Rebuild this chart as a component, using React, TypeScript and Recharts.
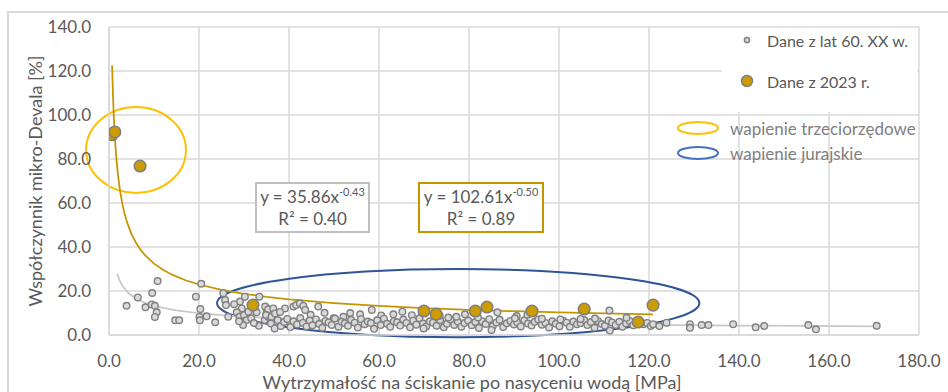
import { ScatterChart, Scatter, XAxis, YAxis, CartesianGrid, ReferenceArea, Legend } from "recharts";

const FONT = "Lato, 'Liberation Sans', sans-serif";
const TEXT = "#595959";
const GRID = "#d9d9d9";
const GOLD = "#cc9c00";
const GOLD_LINE = "#c59500";

// [strength after saturation MPa, micro-Deval %] - survey from the 1960s
const oldSamples: [number, number][] = [
  [3.9, 13.3], [6.4, 17.1], [8.1, 12.6], [9.6, 19.1], [9.5, 13.9], [10.2, 13.3], [10.6, 10.3], [10.2, 8.2],
  [10.8, 24.5], [14.7, 6.7], [15.6, 6.7], [19.3, 17.4], [20.5, 23.3], [20.3, 11.8], [20.1, 8.2], [20.2, 6.7],
  [21.7, 8.5], [23.6, 5.8], [25.4, 19.0], [25.8, 15.9], [26.0, 13.6], [26.5, 8.3],
  [29.1, 15.2], [29.5, 12.1], [28.4, 10.3], [29.0, 8.3], [30.0, 9.1], [30.6, 6.8], [31.0, 10.6], [32.8, 10.3],
  [33.4, 17.4], [33.3, 4.2], [34.9, 12.4], [35.0, 9.8], [34.6, 6.8], [35.4, 8.3], [29.8, 4.5], [30.2, 17.4],
  [31.6, 7.6], [32.2, 5.4], [27.8, 14.0], [28.9, 6.2],
  [34.7, 12.9], [35.4, 11.7], [36.5, 12.1], [34.9, 9.1], [36.1, 8.3], [36.9, 9.8], [39.1, 12.1], [41.0, 12.9],
  [41.6, 13.6], [42.4, 14.4], [43.2, 13.2], [43.6, 11.4], [46.5, 12.9], [58.4, 11.4], [63.2, 9.4], [65.2, 10.6],
  [55.8, 9.4], [52.1, 8.3], [49.9, 7.6], [38.0, 10.5], [44.8, 9.2], [47.9, 10.1], [53.6, 10.0], [60.5, 8.9],
  [67.3, 9.0],
  [36.0, 5.2], [36.8, 3.0], [37.5, 6.8], [38.2, 4.1], [38.9, 5.9], [39.6, 7.3], [40.3, 3.6], [41.0, 6.2],
  [41.8, 4.8], [42.5, 7.7], [43.1, 5.5], [43.9, 3.9], [44.6, 6.6], [45.2, 4.4], [46.0, 7.1], [46.7, 5.0],
  [47.4, 3.3], [48.1, 6.4], [48.8, 5.7], [49.5, 4.6], [50.2, 7.5], [51.0, 3.8], [51.7, 6.0], [52.4, 5.3],
  [53.1, 4.2], [53.8, 6.9], [54.6, 5.6], [55.3, 3.4], [56.0, 7.2], [56.8, 4.9], [57.5, 6.1], [58.2, 5.4],
  [58.9, 2.8], [59.6, 6.7], [60.4, 4.5], [61.1, 7.4], [61.8, 5.1], [62.5, 3.7], [63.3, 6.3], [64.0, 5.8],
  [64.7, 4.3], [65.4, 7.0], [66.1, 5.5], [66.9, 3.5], [67.6, 6.5], [68.3, 4.7], [69.0, 7.6], [69.8, 5.2],
  [70.5, 3.9], [71.3, 6.2],
  [72.0, 5.6], [72.8, 4.2], [73.6, 6.8], [74.4, 3.5], [75.1, 5.1], [75.9, 7.0], [76.7, 4.6], [77.5, 6.1],
  [78.3, 3.8], [79.0, 5.4], [79.8, 6.6], [80.6, 4.4], [81.4, 5.9], [82.2, 3.2], [82.9, 6.3], [83.7, 5.0],
  [84.5, 7.2], [85.3, 4.1], [86.1, 5.7], [86.8, 6.9], [87.6, 3.6], [88.4, 5.3], [89.2, 6.4], [90.0, 4.8],
  [90.7, 5.8], [91.5, 3.9], [92.3, 6.7], [93.1, 5.2], [93.9, 4.3], [94.6, 6.0], [95.4, 7.1], [96.2, 4.7],
  [97.0, 5.5], [97.8, 3.4], [98.5, 6.2], [99.3, 5.1], [100.1, 4.0], [100.9, 6.5], [101.7, 5.6], [102.4, 3.7],
  [103.2, 6.1], [104.0, 4.9], [104.8, 5.4], [105.6, 6.8], [106.3, 4.5], [107.1, 5.9], [107.9, 3.3], [108.7, 6.3],
  [109.5, 5.0], [110.2, 4.2], [111.0, 6.6], [111.8, 5.7], [112.6, 4.6], [113.4, 6.0], [114.1, 3.8], [114.9, 5.3],
  [115.7, 6.4], [116.5, 4.4], [117.3, 5.8], [118.0, 6.2], [118.8, 4.9], [119.6, 5.5], [120.4, 4.1],
  [77.2, 8.3], [79.1, 9.4], [86.3, 10.3], [90.6, 8.6], [75.4, 7.9], [90.2, 7.6], [96.2, 7.4], [100.3, 7.1],
  [104.8, 7.3], [85.0, 2.3], [69.9, 3.0], [111.2, 11.1], [111.3, 2.0], [73.5, 8.8], [82.0, 8.0], [93.0, 9.2],
  [108.0, 7.5], [115.0, 7.8],
  [120.9, 4.9], [122.3, 4.1], [123.9, 5.6], [129.1, 4.9], [129.1, 3.3], [131.7, 4.5], [133.2, 4.5], [138.7, 4.9],
  [143.7, 3.5], [145.6, 4.1], [155.4, 4.5], [157.1, 2.6], [170.6, 4.2],
];

// 2023 tests
const newSamples: [number, number][] = [
  [0.7, 91.0], [1.3, 92.3], [6.9, 76.8], [32.0, 13.6], [70.0, 10.9], [72.7, 9.5],
  [81.4, 10.9], [84.0, 12.7], [94.0, 10.9], [105.6, 11.8], [117.6, 5.9], [120.9, 13.6],
];

// power trend lines y = a * x^b, coefficients as printed in the boxes
const oldFit = { a: 35.86, b: -0.43, r2: "0.40" };
const newFit = { a: 102.61, b: -0.5, r2: "0.89" };
const oldTrendX = [1.8, 2, 2.5, 3, 4, 5, 6, 8, 10, 12, 15, 20, 25, 30, 40, 50, 60, 80, 100, 120, 140, 170.6];
const newTrendX = [0.7, 0.8, 0.9, 1, 1.2, 1.4, 1.7, 2, 2.5, 3, 3.5, 4, 5, 6, 7, 8, 10, 12, 14, 17, 20, 25, 30, 35, 40, 50, 60, 70, 80, 90, 100, 110, 120.9];

const xTicks = [0, 20, 40, 60, 80, 100, 120, 140, 160, 180];
const yTicks = [0, 20, 40, 60, 80, 100, 120, 140];

// rock groups circled on the plot: centre and half-axes in data units
const tertiaryGroup = { cx: 6.0, cy: 84.1, rx: 11.1, ry: 19.5, color: "#ffc000" };
const jurassicGroup = { cx: 77.6, cy: 14.5, rx: 53.6, ry: 15.5, color: "#2f5597" };

const toPoints = (rows: [number, number][]) => rows.map(([x, y]) => ({ x, y }));
const trend = (xs: number[], fit: { a: number; b: number }) =>
  xs.map((x) => ({ x, y: fit.a * Math.pow(x, fit.b) }));

const oldData = toPoints(oldSamples);
const newData = toPoints(newSamples);
const oldTrend = trend(oldTrendX, oldFit);
const newTrend = trend(newTrendX, newFit);

const ellipseShape = (color: string) => (props: any) => {
  const { x, y, width, height } = props;
  return (
    <ellipse
      cx={x + width / 2}
      cy={y + height / 2}
      rx={Math.abs(width) / 2}
      ry={Math.abs(height) / 2}
      fill="none"
      stroke={color}
      strokeWidth={2}
    />
  );
};

const noDot = () => <g />;

const fmt = (v: number) => v.toFixed(1);

function SeriesLegend() {
  const items = [
    { label: "Dane z lat 60. XX w.", r: 2.6, fill: "#d9d9d9", top: 1 },
    { label: "Dane z 2023 r.", r: 5.5, fill: GOLD, top: 42 },
  ];
  return (
    <div style={{ position: "relative", width: 195, height: 84, background: "#fff", fontFamily: FONT }}>
      {items.map((it) => (
        <div key={it.label} style={{ position: "absolute", left: 17, top: it.top, height: 22, display: "flex", alignItems: "center" }}>
          <svg width={16} height={16}>
            <circle cx={8} cy={8} r={it.r} fill={it.fill} stroke="#7f7f7f" strokeWidth={1.5} />
          </svg>
          <span style={{ marginLeft: 12, fontSize: 16, color: TEXT }}>{it.label}</span>
        </div>
      ))}
    </div>
  );
}

function EquationBox({ left, width, fit, border }: { left: number; width: number; fit: { a: number; b: number; r2: string }; border: string }) {
  return (
    <div
      style={{
        position: "absolute",
        left,
        top: 182,
        width,
        height: 51,
        boxSizing: "border-box",
        border: `2px solid ${border}`,
        background: "#fff",
        color: TEXT,
        fontFamily: FONT,
        fontSize: 17,
        textAlign: "center",
        lineHeight: "22px",
        paddingTop: 2,
      }}
    >
      <div>
        y = {fit.a.toFixed(2)}x<sup style={{ fontSize: 11, verticalAlign: "7px", lineHeight: 0 }}>{fit.b.toFixed(2)}</sup>
      </div>
      <div>R² = {fit.r2}</div>
    </div>
  );
}

function GroupKey() {
  const rows = [
    { label: "wapienie trzeciorzędowe", color: "#ffc000", top: 117 },
    { label: "wapienie jurajskie", color: "#4472c4", top: 142 },
  ];
  return (
    <>
      {rows.map((r) => (
        <div key={r.label} style={{ position: "absolute", left: 676, top: r.top, height: 22, display: "flex", alignItems: "center", fontFamily: FONT }}>
          <svg width={44} height={16}>
            <ellipse cx={22} cy={8} rx={20} ry={6} fill="none" stroke={r.color} strokeWidth={2} />
          </svg>
          <span style={{ marginLeft: 10, fontSize: 17, color: "#7f7f7f" }}>{r.label}</span>
        </div>
      ))}
    </>
  );
}

export default function App() {
  return (
    <div style={{ position: "fixed", left: 0, top: 0, width: 948, height: 392, overflow: "hidden", background: "#fff" }}>
      <div
        style={{
          position: "absolute",
          left: 7,
          top: 11,
          right: -4,
          bottom: -4,
          borderLeft: `2px solid ${GRID}`,
          borderTop: `2px solid ${GRID}`,
        }}
      />
      <div style={{ position: "absolute", left: 0, top: 0 }}>
        <ScatterChart width={948} height={392} margin={{ top: 27, right: 29, bottom: 0, left: 9 }}>
          <CartesianGrid stroke={GRID} strokeWidth={1.5} />
          <XAxis
            type="number"
            dataKey="x"
            domain={[0, 180]}
            ticks={xTicks}
            tickFormatter={fmt}
            allowDataOverflow
            height={57}
            tickLine={false}
            tickMargin={14}
            axisLine={{ stroke: GRID, strokeWidth: 1.5 }}
            tick={{ fill: TEXT, fontSize: 17, fontFamily: FONT }}
            label={{
              content: (p: any) => (
                <text
                  x={p.viewBox.x + p.viewBox.width / 2 - 42}
                  y={p.viewBox.y + 47}
                  textAnchor="middle"
                  dominantBaseline="central"
                  fill={TEXT}
                  fontSize={18}
                  fontFamily={FONT}
                >
                  Wytrzymałość na ściskanie po nasyceniu wodą [MPa]
                </text>
              ),
            }}
          />
          <YAxis
            type="number"
            dataKey="y"
            domain={[0, 140]}
            ticks={yTicks}
            tickFormatter={fmt}
            allowDataOverflow
            width={100}
            tickLine={false}
            tickMargin={12}
            axisLine={{ stroke: GRID, strokeWidth: 1.5 }}
            tick={{ fill: TEXT, fontSize: 17, fontFamily: FONT }}
            label={{
              content: (p: any) => {
                const cx = p.viewBox.x + 26;
                const cy = p.viewBox.y + p.viewBox.height / 2;
                return (
                  <text
                    x={cx}
                    y={cy}
                    transform={`rotate(-90 ${cx} ${cy})`}
                    textAnchor="middle"
                    dominantBaseline="central"
                    fill={TEXT}
                    fontSize={18}
                    fontFamily={FONT}
                  >
                    Współczynnik mikro-Devala [%]
                  </text>
                );
              },
            }}
          />
          <Legend
            layout="vertical"
            align="center"
            verticalAlign="middle"
            wrapperStyle={{ left: 722, top: 28, width: 195, height: 84 }}
            content={() => <SeriesLegend />}
          />
          <Scatter
            name="trend 60"
            data={oldTrend}
            line={{ stroke: "#c8c8c8", strokeWidth: 1.75 }}
            shape={noDot}
            legendType="none"
            isAnimationActive={false}
          />
          <Scatter
            name="trend 2023"
            data={newTrend}
            line={{ stroke: GOLD_LINE, strokeWidth: 1.75 }}
            shape={noDot}
            legendType="none"
            isAnimationActive={false}
          />
          <Scatter
            name="Dane z lat 60. XX w."
            data={oldData}
            shape={(p: any) => <circle cx={p.cx} cy={p.cy} r={3.3} fill="#d9d9d9" stroke="#808080" strokeWidth={1.4} />}
            isAnimationActive={false}
          />
          <Scatter
            name="Dane z 2023 r."
            data={newData}
            shape={(p: any) => <circle cx={p.cx} cy={p.cy} r={5.8} fill={GOLD} stroke="#7f7f7f" strokeWidth={1.5} />}
            isAnimationActive={false}
          />
          {[tertiaryGroup, jurassicGroup].map((g) => (
            <ReferenceArea
              key={g.color}
              x1={g.cx - g.rx}
              x2={g.cx + g.rx}
              y1={g.cy - g.ry}
              y2={g.cy + g.ry}
              ifOverflow="visible"
              shape={ellipseShape(g.color)}
            />
          ))}
        </ScatterChart>
      </div>
      <EquationBox left={255} width={115} fit={oldFit} border="#bfbfbf" />
      <EquationBox left={418} width={126} fit={newFit} border={GOLD_LINE} />
      <GroupKey />
    </div>
  );
}
